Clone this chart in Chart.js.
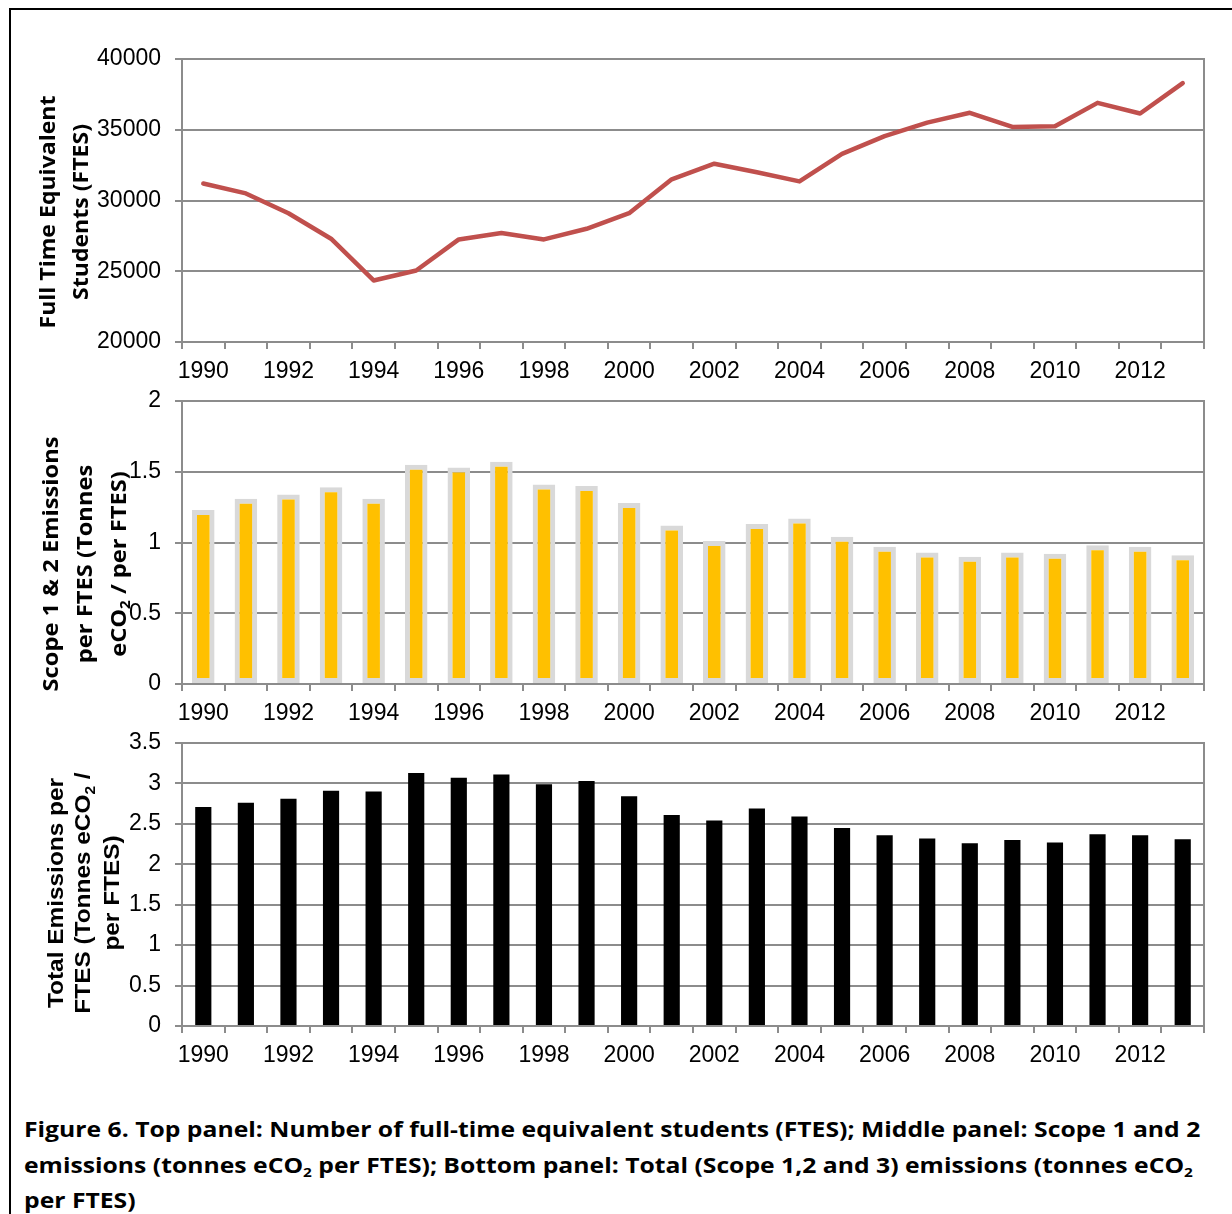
<!DOCTYPE html>
<html>
<head>
<meta charset="utf-8">
<title>Figure 6</title>
<script src="https://cdn.jsdelivr.net/npm/chart.js@4.4.1/dist/chart.umd.min.js"></script>
<style>
  html, body { margin: 0; padding: 0; background: #fff; width: 1232px; height: 1214px; overflow: hidden; }
  .frame { position: absolute; left: 9px; top: 8px; width: 1400px; height: 1400px;
           border-left: 2px solid #000; border-top: 2px solid #000; }
  .panel { position: absolute; left: 0; width: 1232px; }
  .panel canvas { display: block; }
  .caption { position: absolute; left: 24px; top: 1112px; color: #000;
             font-family: "Open Sans", Lato, sans-serif; font-weight: 700;
             font-size: 21px; line-height: 35.5px; white-space: nowrap; }
  .caption div { transform-origin: 0 50%; }
  .caption sub { font-size: 0.62em; vertical-align: -0.3em; line-height: 0; }
</style>
</head>
<body>
<div class="frame"></div>
<div class="panel" style="top:0px;height:390px"><canvas id="ftesChart" width="1232" height="390"></canvas></div>
<div class="panel" style="top:370px;height:360px"><canvas id="scopeChart" width="1232" height="360"></canvas></div>
<div class="panel" style="top:712px;height:375px"><canvas id="totalChart" width="1232" height="375"></canvas></div>
<div class="caption" id="caption">
  <div>Figure 6. Top panel: Number of full-time equivalent students (FTES); Middle panel: Scope 1 and 2</div>
  <div>emissions (tonnes eCO<sub>2</sub> per FTES); Bottom panel: Total (Scope 1,2 and 3) emissions (tonnes eCO<sub>2</sub></div>
  <div>per FTES)</div>
</div>

<script>
// Academic years on the category axis
const years = ['1990', '1991', '1992', '1993', '1994', '1995', '1996', '1997', '1998', '1999', '2000', '2001',
               '2002', '2003', '2004', '2005', '2006', '2007', '2008', '2009', '2010', '2011', '2012', '2013'];

// Full time equivalent students
const ftes = [31200, 30500, 29100, 27300, 24350, 25050, 27250, 27700, 27250, 28000, 29100, 31500,
              32600, 32000, 31350, 33300, 34550, 35500, 36200, 35200, 35250, 36900, 36150, 38300];

// Scope 1 & 2 emissions, tonnes eCO2 per FTES
const scope12 = [1.23, 1.31, 1.34, 1.39, 1.31, 1.55, 1.53, 1.57, 1.41, 1.40, 1.28, 1.12,
                 1.01, 1.13, 1.17, 1.04, 0.97, 0.93, 0.90, 0.93, 0.92, 0.98, 0.97, 0.91];

// Total (scope 1, 2 and 3) emissions, tonnes eCO2 per FTES
const totalEmissions = [2.71, 2.76, 2.81, 2.91, 2.90, 3.13, 3.07, 3.11, 2.99, 3.03, 2.84, 2.61,
                        2.54, 2.69, 2.59, 2.45, 2.36, 2.32, 2.26, 2.30, 2.27, 2.37, 2.36, 2.31];

// Axis titles, one entry per line
const ftesTitle = ['Full Time Equivalent', 'Students (FTES)'];
const scopeTitle = ['Scope 1 & 2 Emissions', 'per FTES (Tonnes', 'eCO₂ / per FTES)'];
const totalTitle = ['Total Emissions per', 'FTES (Tonnes eCO₂ /', 'per FTES)'];

const GRID = '#8c8c8c';
const TICK_FONT = { family: "'Liberation Sans', Arial, sans-serif", size: 23 };
const TITLE_SANS = "'Open Sans', Lato, sans-serif";
const TITLE_ARIAL = "'Liberation Sans', Arial, sans-serif";

// Grey frame round the plot area (top and right edges)
const plotFrame = {
  id: 'plotFrame',
  beforeDatasetsDraw(chart) {
    const { ctx, chartArea: a } = chart;
    ctx.save();
    ctx.strokeStyle = GRID;
    ctx.lineWidth = 2;
    ctx.strokeRect(a.left, a.top, a.right - a.left, a.bottom - a.top);
    ctx.restore();
  }
};

// Rotated, multi-line axis title with subscript support for "₂"
const sideTitle = {
  id: 'sideTitle',
  afterDraw(chart, _args, o) {
    if (!o || !o.lines) return;
    const ctx = chart.ctx;
    const font = `bold ${o.size}px ${o.family}`;
    const subFont = `bold ${Math.round(o.size * 0.62)}px ${o.family}`;
    ctx.save();
    ctx.font = font;
    const k = o.span / ctx.measureText(o.lines[0].replace('₂', '2')).width;
    o.lines.forEach((line, i) => {
      const parts = line.split('₂');
      const segs = [];
      parts.forEach((p, j) => {
        segs.push({ t: p, f: font, dy: 0 });
        if (j < parts.length - 1) segs.push({ t: '2', f: subFont, dy: o.size * 0.22 });
      });
      let total = 0;
      segs.forEach(s => { ctx.font = s.f; s.w = ctx.measureText(s.t).width; total += s.w; });
      ctx.save();
      ctx.translate(o.x[i], o.cy);
      ctx.rotate(-Math.PI / 2);
      ctx.scale(k, 1);
      ctx.fillStyle = '#000';
      ctx.textAlign = 'left';
      ctx.textBaseline = 'alphabetic';
      let x = -total / 2;
      segs.forEach(s => { ctx.font = s.f; ctx.fillText(s.t, x, s.dy); x += s.w; });
      ctx.restore();
    });
    ctx.restore();
  }
};

function scalesFor(yMin, yMax, yStep, xAxisHeight) {
  return {
    x: {
      offset: true,
      grid: { offset: true, drawOnChartArea: false, drawTicks: true, tickLength: 7, color: GRID, lineWidth: 2 },
      border: { display: true, color: GRID, width: 2 },
      ticks: {
        autoSkip: false, maxRotation: 0, minRotation: 0, padding: 9, color: '#000', font: TICK_FONT,
        callback: (v, i) => (i % 2 === 0 ? years[i] : '')
      },
      afterFit: s => { s.height = xAxisHeight; }
    },
    y: {
      min: yMin, max: yMax,
      grid: { color: GRID, lineWidth: 2, drawTicks: true, tickLength: 7 },
      border: { display: true, color: GRID, width: 2 },
      ticks: { stepSize: yStep, padding: 14, color: '#000', font: TICK_FONT, callback: v => String(v) },
      afterFit: s => { s.width = 182; }
    }
  };
}

function baseOptions(topPad, yMin, yMax, yStep, xAxisHeight, title) {
  return {
    responsive: false,
    animation: false,
    devicePixelRatio: 1,
    layout: { padding: { left: 0, right: 28, top: topPad, bottom: 0 } },
    plugins: { legend: { display: false }, tooltip: { enabled: false }, sideTitle: title },
    scales: scalesFor(yMin, yMax, yStep, xAxisHeight)
  };
}

Chart.register(plotFrame, sideTitle);

// Top panel: FTES line
new Chart(document.getElementById('ftesChart'), {
  type: 'line',
  data: {
    labels: years,
    datasets: [{
      data: ftes,
      borderColor: '#c0504d',
      borderWidth: 4.5,
      pointRadius: 0,
      tension: 0,
      borderCapStyle: 'round',
      borderJoinStyle: 'round'
    }]
  },
  options: baseOptions(59, 20000, 40000, 5000, 48, {
    lines: ftesTitle, family: TITLE_SANS, size: 22, span: 233, x: [54.5, 88], cy: 212
  })
});

// Middle panel: scope 1 & 2 emissions per FTES
new Chart(document.getElementById('scopeChart'), {
  type: 'bar',
  data: {
    labels: years,
    datasets: [{
      data: scope12,
      backgroundColor: '#ffc000',
      borderColor: '#d9d9d9',
      borderWidth: 5,
      borderSkipped: false,
      barPercentage: 0.53,
      categoryPercentage: 1
    }]
  },
  options: baseOptions(31, 0, 2, 0.5, 46, {
    lines: scopeTitle, family: TITLE_SANS, size: 22, span: 255, x: [57.5, 92, 125.5], cy: 564 - 370
  })
});

// Bottom panel: total emissions per FTES
new Chart(document.getElementById('totalChart'), {
  type: 'bar',
  data: {
    labels: years,
    datasets: [{
      data: totalEmissions,
      backgroundColor: '#000000',
      borderWidth: 0,
      barPercentage: 0.38,
      categoryPercentage: 1
    }]
  },
  options: baseOptions(31, 0, 3.5, 0.5, 61, {
    lines: totalTitle, family: TITLE_ARIAL, size: 22, span: 230, x: [62.5, 90, 118.5], cy: 893 - 712
  })
});

// Caption lines share one horizontal scale so the first line spans the text block
(function fitCaption() {
  const rows = document.querySelectorAll('#caption div');
  const w = rows[0].scrollWidth || rows[0].getBoundingClientRect().width;
  const k = 1176 / w;
  rows.forEach(r => { r.style.transform = `scaleX(${k})`; });
})();
</script>
</body>
</html>
